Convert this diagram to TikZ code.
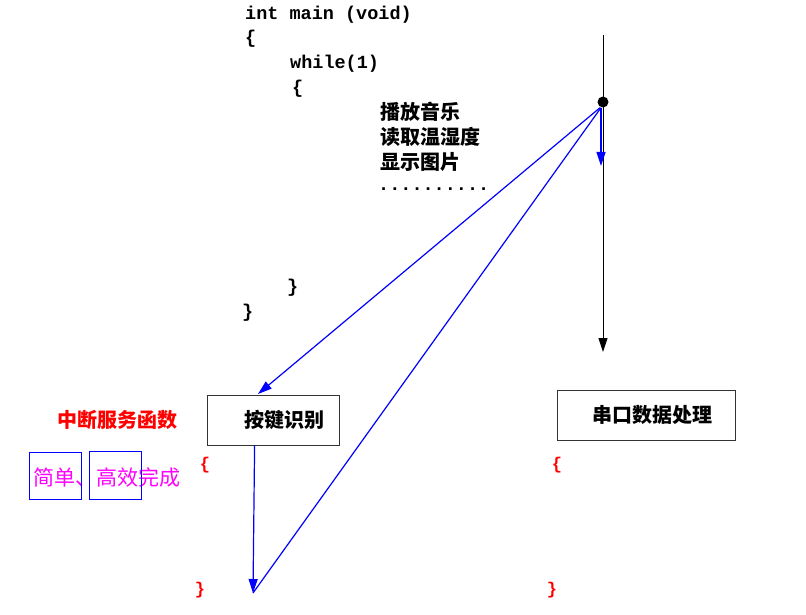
\documentclass[tikz,border=0pt]{standalone}
\usepackage{fontspec}
\setmonofont{Liberation Mono}
\newfontfamily\cjk{Noto Sans CJK SC}
\usetikzlibrary{arrows.meta}
\definecolor{pinkish}{RGB}{255,0,255}
\begin{document}
\begin{tikzpicture}[x=1pt,y=-1pt]
\tikzstyle{code} = [anchor=west,inner sep=0pt,font=\ttfamily\bfseries\fontsize{18.5}{20}\selectfont]
\tikzstyle{task} = [anchor=west,inner sep=0pt,font=\cjk\bfseries\fontsize{20}{22}\selectfont]
\tikzstyle{isr} = [draw=black!80,thick,minimum height=50pt,inner sep=0pt,font=\cjk\bfseries\fontsize{20}{22}\selectfont]
\tikzstyle{brace} = [red,inner sep=0pt,font=\ttfamily\bfseries\fontsize{17}{18}\selectfont]
\tikzstyle{flow} = [blue,line width=1.2pt]
\tikzstyle{tip} = [-{Triangle[length=14pt,width=9pt]}]
\useasboundingbox (0,0) rectangle (806,615);
% main loop
\node[code] (l1) at (245,15) {int main (void)};
\node[code] (l2) at (245,39) {\{};
\node[code] (l3) at (290,64) {while(1)};
\node[code] (l4) at (292,89) {\{};
\node[task] (t1) at (380,112) {播放音乐};
\node[task] (t2) at (380,137) {读取温湿度};
\node[task] (t3) at (380,162) {显示图片};
\node[code] (t4) at (378,189) {..........};
\node[code] (l5) at (287,288) {\}};
\node[code] (l6) at (242,313) {\}};
% time line
\coordinate (top) at (603,35);
\coordinate (bot) at (603,352);
\node[circle,fill=black,inner sep=0pt,minimum size=11pt] (hub) at (603,102) {};
\draw[black,line width=0.9pt,tip] (top) -- (bot);
% interrupt routines
\node[isr,minimum width=132pt] (key) at (273,420) {\hspace*{22pt}按键识别};
\node[isr,minimum width=178pt] (uart) at (646,415) {\hspace*{12pt}串口数据处理};
\node[brace] (k1) at (205,465) {\{};
\node[brace] (k2) at (200,590) {\}};
\node[brace] (u1) at (557,465) {\{};
\node[brace] (u2) at (552,590) {\}};
\coordinate (keyin) at (258,394);
\coordinate (keyend) at (253,593);
\coordinate (back) at (601,166);
\draw[flow,tip] ([xshift=-2pt]hub.south) -- (back);
\draw[flow,tip] ([xshift=-3pt]hub.south) -- (keyin);
\draw[flow,tip] ([xshift=2pt]key.south west) ++(46pt,0) -- (keyend);
\draw[flow] (keyend) -- ([xshift=-2pt]hub.south);
% notes
\node[red,inner sep=0pt,font=\cjk\bfseries\fontsize{20}{22}\selectfont] (isrname) at (117,420) {中断服务函数};
\node[pinkish,anchor=west,inner sep=0pt,font=\cjk\fontsize{21}{22}\selectfont] (note) at (33,477) {简单、高效完成};
\draw[blue,thick] (29,452) rectangle (81,499);
\draw[blue,thick] (89,451) rectangle (141,499);
\end{tikzpicture}
\end{document}
